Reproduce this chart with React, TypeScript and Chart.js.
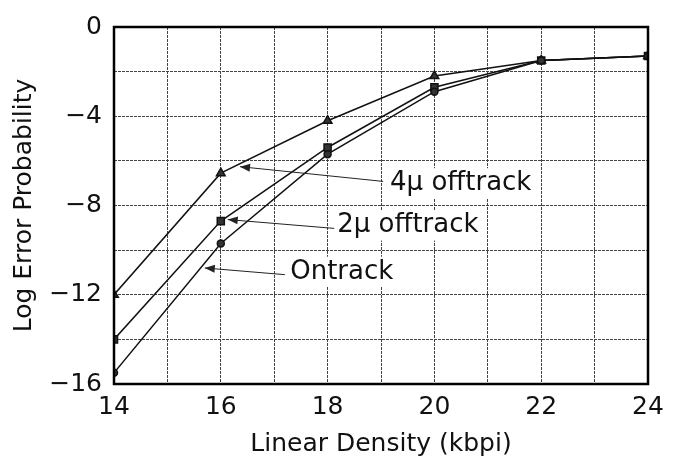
import React, { useEffect, useRef } from 'react';
import { Chart, registerables } from 'chart.js';
Chart.register(...registerables);

const xValues = [14, 16, 18, 20, 22, 24];
const ontrack = [-15.5, -9.7, -5.7, -2.9, -1.5, -1.3];
const offtrack2 = [-14, -8.7, -5.4, -2.7, -1.5, -1.3];
const offtrack4 = [-12, -6.55, -4.2, -2.2, -1.5, -1.3];
const seriesNames = ['Ontrack', '2μ offtrack', '4μ offtrack'];
const xTickLabels = [14, 16, 18, 20, 22, 24];
const yTickLabels = [0, -4, -8, -12, -16];

const labelTextX = [17.3, 18.18, 19.17];
const labelTextY = [-10.97, -8.9, -7.0];
const arrowFromX = [17.2, 18.14, 19.04];
const arrowFromY = [-11.1, -9.03, -6.92];
const arrowToX = [15.7, 16.13, 16.36];
const arrowToY = [-10.8, -8.63, -6.26];

const FONT = "'DejaVu Sans', Verdana, sans-serif";

const annotationPlugin = {
  id: 'annot',
  afterDatasetsDraw(chart: any) {
    const { ctx, scales } = chart;
    const xs = scales.x;
    const ys = scales.y;
    ctx.save();
    seriesNames.forEach((name, i) => {
      const fx = xs.getPixelForValue(arrowFromX[i]);
      const fy = ys.getPixelForValue(arrowFromY[i]);
      const tx = xs.getPixelForValue(arrowToX[i]);
      const ty = ys.getPixelForValue(arrowToY[i]);
      ctx.strokeStyle = '#222';
      ctx.fillStyle = '#222';
      ctx.lineWidth = 1;
      ctx.beginPath();
      ctx.moveTo(fx, fy);
      ctx.lineTo(tx, ty);
      ctx.stroke();
      const ang = Math.atan2(ty - fy, tx - fx);
      const L = 10, W = 4;
      ctx.beginPath();
      ctx.moveTo(tx, ty);
      ctx.lineTo(tx - L * Math.cos(ang) + W * Math.sin(ang), ty - L * Math.sin(ang) - W * Math.cos(ang));
      ctx.lineTo(tx - L * Math.cos(ang) - W * Math.sin(ang), ty - L * Math.sin(ang) + W * Math.cos(ang));
      ctx.closePath();
      ctx.fill();
      ctx.font = `26px ${FONT}`;
      const lx = xs.getPixelForValue(labelTextX[i]);
      const ly = ys.getPixelForValue(labelTextY[i]);
      const w = ctx.measureText(name).width;
      ctx.fillStyle = '#fff';
      ctx.fillRect(lx - 3, ly - 15, w + 6, 30);
      ctx.fillStyle = '#111';
      ctx.textBaseline = 'middle';
      ctx.textAlign = 'left';
      ctx.fillText(name, lx, ly);
    });
    const a = chart.chartArea;
    ctx.strokeStyle = '#000';
    ctx.lineWidth = 2.5;
    ctx.strokeRect(a.left, a.top, a.right - a.left, a.bottom - a.top);
    ctx.restore();
  },
};

export default function App() {
  const ref = useRef<HTMLCanvasElement | null>(null);
  useEffect(() => {
    if (!ref.current) return;
    const mk = (label: string, data: number[], style: string, r: number) => ({
      label,
      data: xValues.map((x, i) => ({ x, y: data[i] })),
      borderColor: '#111',
      backgroundColor: '#111',
      borderWidth: 1.5,
      pointStyle: style,
      pointRadius: r,
      pointBorderColor: '#111',
      pointBackgroundColor: '#333',
      tension: 0,
      fill: false,
    });
    const chart = new Chart(ref.current, {
      type: 'line',
      data: {
        datasets: [
          mk(seriesNames[0], ontrack, 'circle', 3.5),
          mk(seriesNames[1], offtrack2, 'rect', 5),
          mk(seriesNames[2], offtrack4, 'triangle', 5),
        ],
      },
      plugins: [annotationPlugin],
      options: {
        animation: false,
        responsive: false,
        layout: { padding: { left: 0, top: 21, right: 32, bottom: 0 } },
        plugins: { legend: { display: false }, tooltip: { enabled: false } },
        scales: {
          x: {
            type: 'linear',
            min: 14,
            max: 24,
            afterFit: (s: any) => { s.height = 76; },
            ticks: {
              stepSize: 1,
              padding: 8,
              color: '#111',
              font: { size: 25, family: FONT },
              maxRotation: 0,
              autoSkip: false,
              callback: (v: any) => (xTickLabels.includes(Number(v)) ? String(v) : ''),
            },
            grid: { color: '#444', lineWidth: 1, drawTicks: false },
            border: { display: false, dash: [3, 1] },
            title: {
              display: true,
              text: 'Linear Density (kbpi)',
              color: '#111',
              font: { size: 25, family: FONT },
              padding: { top: 0, bottom: 1 },
            },
          },
          y: {
            type: 'linear',
            min: -16,
            max: 0,
            afterFit: (s: any) => { s.width = 114; },
            ticks: {
              stepSize: 2,
              padding: 12,
              color: '#111',
              font: { size: 25, family: FONT },
              autoSkip: false,
              callback: (v: any) => (yTickLabels.includes(Number(v)) ? (Number(v) < 0 ? '−' + Math.abs(Number(v)) : String(v)) : ''),
            },
            grid: { color: '#444', lineWidth: 1, drawTicks: false },
            border: { display: false, dash: [3, 1] },
            title: {
              display: true,
              text: 'Log Error Probability',
              color: '#111',
              font: { size: 25, family: FONT },
              padding: { top: 9, bottom: 0 },
            },
          },
        },
      },
    } as any);
    return () => chart.destroy();
  }, []);
  return (
    <div style={{ position: 'fixed', left: 0, top: 0, width: 680, height: 460, background: '#fff' }}>
      <canvas ref={ref} width={680} height={460} style={{ width: 680, height: 460 }} />
    </div>
  );
}
